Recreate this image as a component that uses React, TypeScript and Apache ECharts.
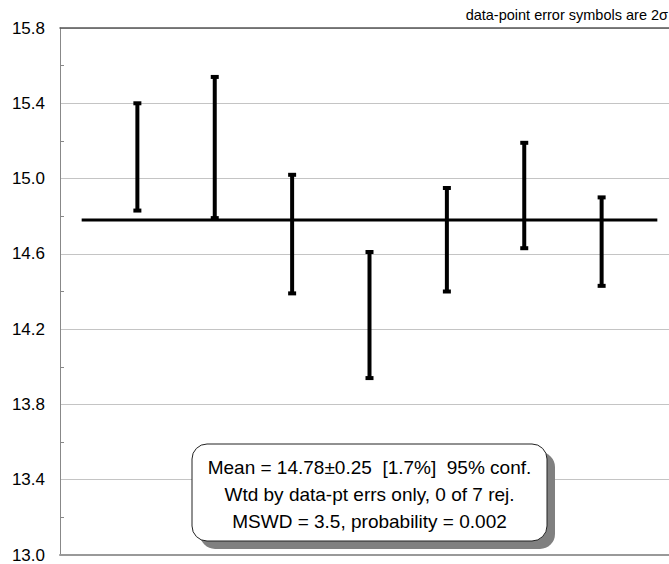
import React, { useEffect, useRef } from "react";
import * as echarts from "echarts";

// Data
const Y_BASE = 13.0; // bottom of y axis (values are shifted so the tick origin is a multiple of the interval)
const Y_TOP = 15.8;
const Y_INTERVAL = 0.4;
const X_MIN = 0;
const X_MAX = 8;
const pointX = [1, 2, 3, 4, 5, 6, 7];
const lowValues = [14.83, 14.79, 14.39, 13.94, 14.40, 14.63, 14.43];
const highValues = [15.40, 15.54, 15.02, 14.61, 14.95, 15.19, 14.90];
const meanValue = 14.78;
const meanLineX = [0.28, 7.72];
const noteText = "data-point error symbols are 2σ";
const boxLines = [
  "Mean = 14.78±0.25  [1.7%]  95% conf.",
  "Wtd by data-pt errs only, 0 of 7 rej.",
  "MSWD = 3.5, probability = 0.002",
];

const FONT = "'Liberation Sans', Arial, sans-serif";
const VIEW_W = 669;
const CHART_W = 679; // plot extends past the visible right edge

export default function App() {
  const ref = useRef<HTMLDivElement>(null);

  useEffect(() => {
    if (!ref.current) return;
    const chart = echarts.init(ref.current, undefined, { renderer: "svg" });

    const errData = pointX.map((x, i) => [x, lowValues[i] - Y_BASE, highValues[i] - Y_BASE]);
    const meanData = meanLineX.map((x) => [x, meanValue - Y_BASE]);

    const boxX = 192, boxY = 444, boxW = 355, boxH = 97;

    chart.setOption({
      animation: false,
      backgroundColor: "#ffffff",
      grid: { left: 60, right: 0, top: 28, bottom: 9, containLabel: false },
      xAxis: [
        {
          type: "value",
          min: X_MIN,
          max: X_MAX,
          position: "bottom",
          axisLine: { show: true, lineStyle: { color: "#999999", width: 2 } },
          axisTick: { show: false },
          axisLabel: { show: false },
          splitLine: { show: false },
        },
        {
          type: "value",
          min: X_MIN,
          max: X_MAX,
          position: "top",
          axisLine: { show: true, lineStyle: { color: "#555555", width: 1.5 } },
          axisTick: { show: false },
          axisLabel: { show: false },
          splitLine: { show: false },
        },
      ],
      yAxis: {
        type: "value",
        min: 0,
        max: Y_TOP - Y_BASE,
        interval: Y_INTERVAL,
        axisLine: { show: true, lineStyle: { color: "#888888", width: 1 } },
        axisTick: { show: false, inside: true },
        minorTick: { show: true, splitNumber: 2, length: 4, lineStyle: { color: "#888888", width: 1 } },
        axisLabel: {
          formatter: (v: number) => (v + Y_BASE).toFixed(1),
          fontSize: 17,
          color: "#000000",
          fontFamily: FONT,
          margin: 15,
        },
        splitLine: { show: true, lineStyle: { color: "#c4c4c4", width: 1 } },
      },
      series: [
        {
          type: "line",
          data: meanData,
          symbol: "none",
          lineStyle: { color: "#000000", width: 3 },
          z: 3,
        },
        {
          type: "custom",
          data: errData,
          z: 4,
          renderItem: (params: any, api: any) => {
            const x = api.value(0);
            const lo = api.coord([x, api.value(1)]);
            const hi = api.coord([x, api.value(2)]);
            return {
              type: "group",
              children: [
                {
                  type: "line",
                  shape: { x1: lo[0], y1: lo[1], x2: hi[0], y2: hi[1] },
                  style: { stroke: "#000000", lineWidth: 4 },
                },
                {
                  type: "rect",
                  shape: { x: hi[0] - 4, y: hi[1] - 2, width: 8, height: 4 },
                  style: { fill: "#000000" },
                },
                {
                  type: "rect",
                  shape: { x: lo[0] - 4, y: lo[1] - 2, width: 8, height: 4 },
                  style: { fill: "#000000" },
                },
              ],
            };
          },
        },
      ],
      graphic: [
        {
          type: "text",
          x: VIEW_W - 1,
          y: 15,
          z: 100,
          style: {
            text: noteText,
            fontSize: 14.5,
            fill: "#000000",
            fontFamily: FONT,
            align: "right",
            verticalAlign: "middle",
          },
        },
        {
          type: "rect",
          z: 100,
          shape: { x: boxX + 8, y: boxY + 8, width: boxW, height: boxH, r: 15 },
          style: { fill: "#808080" },
        },
        {
          type: "rect",
          z: 101,
          shape: { x: boxX, y: boxY, width: boxW, height: boxH, r: 15 },
          style: { fill: "#ffffff", stroke: "#222222", lineWidth: 1 },
        },
        ...boxLines.map((t, i) => ({
          type: "text",
          z: 102,
          x: boxX + boxW / 2,
          y: 467 + i * 27,
          style: {
            text: t,
            fontSize: 19,
            fill: "#000000",
            fontFamily: FONT,
            align: "center",
            verticalAlign: "middle",
          },
        })),
      ],
    });

    return () => chart.dispose();
  }, []);

  return (
    <div
      style={{
        position: "absolute",
        left: 0,
        top: 0,
        width: VIEW_W,
        height: 564,
        overflow: "hidden",
      }}
    >
      <div ref={ref} style={{ width: CHART_W, height: 564 }} />
    </div>
  );
}
